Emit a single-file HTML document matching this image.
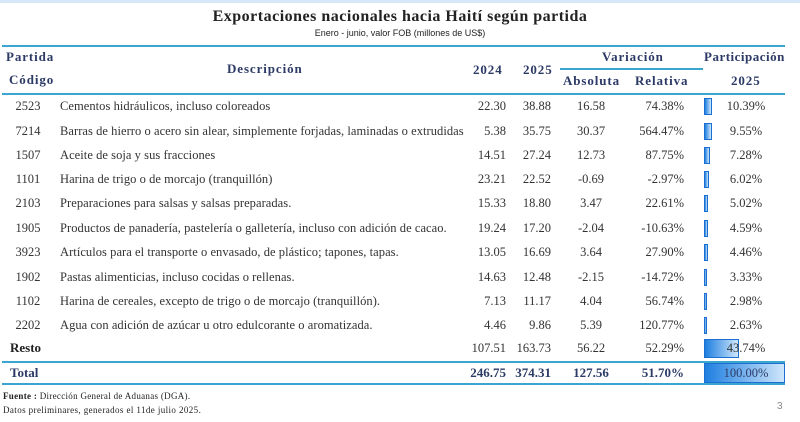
<!DOCTYPE html>
<html><head><meta charset="utf-8"><style>
body{margin:0;width:800px;height:422px;background:#fff;position:relative;overflow:hidden;font-family:"Liberation Serif",serif;}
.t{position:absolute;white-space:nowrap;font-size:12.5px;color:#333;line-height:14px;}
.h{font-weight:bold;color:#2c3a66;font-size:13px;letter-spacing:0.9px;}
.ln{position:absolute;height:2px;background:#3aa6d0;}
.bar{position:absolute;border:1px solid #1a6fd0;background:linear-gradient(90deg,#1e7fe0,#cfe6fb);box-sizing:border-box;}
</style></head><body>
<div style="position:absolute;left:0;top:0;width:800px;height:3px;background:#d6e8f7"></div>
<div class="t" style="left:0;width:800px;text-align:center;top:10px;font-size:16px;font-weight:bold;color:#222;letter-spacing:0.5px">Exportaciones nacionales hacia Haití según partida</div>
<div class="t" style="left:0;width:800px;text-align:center;top:26px;font-family:'Liberation Sans Narrow','Liberation Sans',sans-serif;font-size:9px;color:#222">Enero - junio, valor FOB (millones de US$)</div>
<div class="ln" style="left:2px;width:783px;top:45px"></div>
<div class="ln" style="left:560px;width:143px;top:68px"></div>
<div class="ln" style="left:2px;width:783px;top:93px"></div>
<div class="ln" style="left:2px;width:783px;top:361px"></div>
<div class="ln" style="left:2px;width:783px;top:383px"></div>
<div class="t h" style="left:6px;top:50px">Partida</div>
<div class="t h" style="left:9px;top:73px">Código</div>
<div class="t h" style="left:227px;top:62px">Descripción</div>
<div class="t h" style="left:473px;top:63px">2024</div>
<div class="t h" style="left:523px;top:63px">2025</div>
<div class="t h" style="left:602px;top:50px">Variación</div>
<div class="t h" style="left:563px;top:74px">Absoluta</div>
<div class="t h" style="left:635px;top:74px">Relativa</div>
<div class="t h" style="left:704px;top:50px;letter-spacing:0.5px">Participación</div>
<div class="t h" style="left:731px;top:74px">2025</div>
<div id="rows"></div>
<div class="t" style="left:3px;top:389px;font-size:9px;color:#222;letter-spacing:0.3px"><b>Fuente :</b> Dirección General de Aduanas (DGA).</div>
<div class="t" style="left:3px;top:403px;font-size:9px;color:#222;letter-spacing:0.4px">Datos preliminares, generados el 11de julio 2025.</div>
<div class="t" style="left:777px;top:400px;font-family:'Liberation Sans',sans-serif;color:#888;font-size:10px">3</div>
<script>
const codes=["2523","7214","1507","1101","2103","1905","3923","1902","1102","2202","Resto","Total"];
const descs=["Cementos hidráulicos, incluso coloreados","Barras de hierro o acero sin alear, simplemente forjadas, laminadas o extrudidas","Aceite de soja y sus fracciones","Harina de trigo o de morcajo (tranquillón)","Preparaciones para salsas y salsas preparadas.","Productos de panadería, pastelería o galletería, incluso con adición de cacao.","Artículos para el transporte o envasado, de plástico; tapones, tapas.","Pastas alimenticias, incluso cocidas o rellenas.","Harina de cereales, excepto de trigo o de morcajo (tranquillón).","Agua con adición de azúcar u otro edulcorante o aromatizada.","",""];
const v2024=["22.30","5.38","14.51","23.21","15.33","19.24","13.05","14.63","7.13","4.46","107.51","246.75"];
const v2025=["38.88","35.75","27.24","22.52","18.80","17.20","16.69","12.48","11.17","9.86","163.73","374.31"];
const absol=["16.58","30.37","12.73","-0.69","3.47","-2.04","3.64","-2.15","4.04","5.39","56.22","127.56"];
const relat=["74.38%","564.47%","87.75%","-2.97%","22.61%","-10.63%","27.90%","-14.72%","56.74%","120.77%","52.29%","51.70%"];
const share=[10.39,9.55,7.28,6.02,5.02,4.59,4.46,3.33,2.98,2.63,43.74,100.00];
const root=document.getElementById('rows');
function add(name,txt,style,cls){const d=document.createElement('div');d.className='t'+(cls?' '+cls:'');d.textContent=txt;d.style.cssText=style;


root.appendChild(d);return d;}
codes.forEach((c,i)=>{
 const cy=[106,131,155,179,203,228,252,277,301,325,348,373][i];
 const top=cy-7;const tot=i==11;const bold=tot?'font-weight:bold;color:#2c3a66;font-size:13px;':'';
 if(i<10) add('code-'+c,c,`left:10px;width:36px;text-align:center;top:${top}px`);
 else add('label-'+c.toLowerCase(),c,`left:10px;top:${top}px;font-weight:bold;font-size:13px;color:${tot?'#2c3a66':'#222'}`);
 if(descs[i]) add('desc-'+c,descs[i],`left:60px;top:${top}px;letter-spacing:0.05px`);
 add('v2024-'+c,v2024[i],`left:445px;width:61px;text-align:right;top:${top}px;${bold}`);
 add('v2025-'+c,v2025[i],`left:490px;width:61px;text-align:right;top:${top}px;${bold}`);
 add('abs-'+c,absol[i],`left:556px;width:70px;text-align:center;top:${top}px;${bold}`);
 add('rel-'+c,relat[i],`left:610px;width:74px;text-align:right;top:${top}px;${bold}`);
 const b=document.createElement('div');b.className='bar';
 
 
 const w=Math.max(3,share[i]/100*81);const h=tot?20:(i==10?19:17);
 b.style.cssText=`left:704px;top:${cy-h/2}px;width:${w}px;height:${h}px`;root.appendChild(b);
 add('share-'+c,share[i].toFixed(2)+'%',`left:712px;width:68px;text-align:center;top:${top}px;${tot?'color:#2c3a66;':''}`);
});
</script>
</body></html>
